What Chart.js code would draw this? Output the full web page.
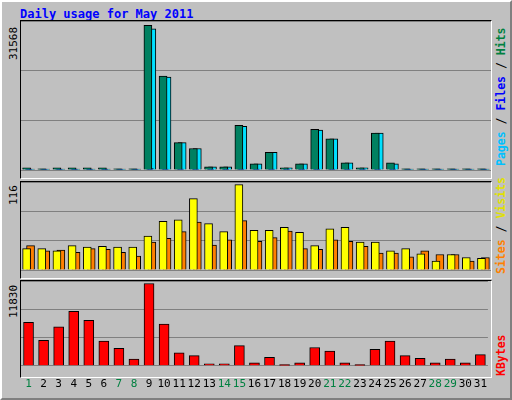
<!DOCTYPE html>
<html><head>
<script src="https://cdn.jsdelivr.net/npm/chart.js@4"></script>
<style>
body{margin:0;background:#fff}
#frame{position:absolute;left:0;top:0;width:508px;height:396px;background:#c0c0c0;border:2px solid;border-color:#fff #808080 #808080 #fff}
.p{position:absolute;left:20px;width:470px;background:#c0c0c0;border:1px solid #000;border-right-color:#fff;border-bottom-color:#fff}
.c{position:absolute;left:21px;width:470px}
.txt{position:absolute;font:bold 12px "DejaVu Sans Mono",monospace;white-space:nowrap}
.rot{transform:rotate(-90deg);transform-origin:left top}
</style></head><body>
<div id="frame"></div>
<div class="txt" style="left:20px;top:7px;color:#0000ff">Daily usage for May 2011</div>
<div class="p" style="top:20px;height:157px"></div>
<div class="p" style="top:181px;height:96px"></div>
<div class="p" style="top:280px;height:96px"></div>
<div class="c" style="top:21px;height:157px"><canvas id="c1"></canvas></div>
<div class="c" style="top:182px;height:96px"><canvas id="c2"></canvas></div>
<div class="c" style="top:281px;height:114px"><canvas id="c3"></canvas></div>
<div class="txt rot" style="left:7px;top:60px;font-weight:normal;font-size:11px">31568</div>
<div class="txt rot" style="left:7px;top:205px;font-weight:normal;font-size:11px">116</div>
<div class="txt rot" style="left:7px;top:318px;font-weight:normal;font-size:11px">11830</div>
<div class="txt rot" style="left:494px;top:166px;font-size:11.5px"><span style="color:#00c0ff">Pages</span> / <span style="color:#0000ff">Files</span> / <span style="color:#008040">Hits</span></div>
<div class="txt rot" style="left:494px;top:274px;font-size:11.5px"><span style="color:#ff8000">Sites</span> / <span style="color:#e0e000">Visits</span></div>
<div class="txt rot" style="left:494px;top:376px;font-size:11.5px;color:#ff0000">KBytes</div>
<script>
const days = Array.from({length: 31}, (_, i) => i + 1);
const weekend = [1, 7, 8, 14, 15, 21, 22, 28, 29];
const hits = [490, 280, 490, 490, 490, 490, 280, 280, 31568, 20480, 5960, 4700, 700, 700, 9750, 1330, 3860, 490, 1330, 8900, 6800, 1540, 490, 8070, 1540, 280, 280, 280, 280, 280, 280];
const files = [150, 80, 150, 150, 150, 150, 80, 80, 300, 200, 150, 200, 100, 100, 150, 100, 100, 100, 100, 150, 100, 100, 100, 100, 200, 80, 80, 80, 80, 80, 80];
const pages = [100, 60, 100, 100, 100, 100, 60, 60, 30800, 20270, 5960, 4700, 700, 700, 9540, 1330, 3860, 490, 1330, 8700, 6800, 1540, 490, 8070, 1330, 60, 60, 60, 60, 60, 60];
const visits = [29, 29, 26, 33, 31, 32, 31, 31, 46, 66, 68, 97, 63, 52, 116, 54, 54, 58, 51, 33, 56, 58, 38, 38, 26, 29, 22, 12, 21, 17, 16];
const sites = [33, 26, 27, 24, 29, 28, 24, 19, 38, 43, 52, 65, 34, 41, 67, 39, 44, 53, 29, 28, 41, 39, 32, 23, 23, 18, 26, 21, 21, 12, 17];
const kbytes = [6260, 3670, 5610, 7820, 6520, 3540, 2500, 950, 11830, 6000, 1860, 1470, 300, 300, 2890, 430, 1210, 170, 430, 2630, 2120, 430, 170, 2380, 3540, 1470, 1080, 430, 950, 430, 1600];

function bar(values, color, shift, width) {
  return {data: values.map((v, i) => ({x: days[i] + shift, y: v})), backgroundColor: color,
    borderColor: "#000", borderWidth: 1, barThickness: width, grouped: false, minBarLength: 1};
}

function panel(id, datasets, max, showX) {
  new Chart(document.getElementById(id), {
    type: "bar",
    data: {datasets: datasets},
    options: {
      responsive: true,
      maintainAspectRatio: false,
      animation: false,
      layout: {padding: 0},
      plugins: {legend: {display: false}, tooltip: {enabled: false}},
      scales: {
        x: {
          type: "linear", min: 0.5, max: 31.5, offset: false,
          grid: {display: false},
          border: {display: false},
          afterBuildTicks: axis => { axis.ticks = days.map(d => ({value: d})); },
          ticks: {
            display: showX, maxRotation: 0, autoSkip: false, padding: 4,
            font: {family: "DejaVu Sans Mono", size: 11},
            color: ctx => weekend.includes(ctx.tick.value) ? "#008040" : "#000"
          }
        },
        y: {
          min: 0, max: max,
          ticks: {display: false, stepSize: max / 3},
          grid: {color: "#808080", lineWidth: 1, drawTicks: false},
          border: {display: false}
        }
      }
    }
  });
}

panel("c1", [bar(hits, "#008060", -0.13, 8), bar(files, "#0000ff", 0, 7), bar(pages, "#00e0ff", 0.13, 8)], 31568 * 1.03, false);
panel("c2", [bar(visits, "#ffff00", -0.13, 8), bar(sites, "#ff8000", 0.13, 8)], 116 * 1.03, false);
panel("c3", [bar(kbytes, "#ff0000", 0, 10)], 11830 * 1.03, true);
</script>
</body></html>
